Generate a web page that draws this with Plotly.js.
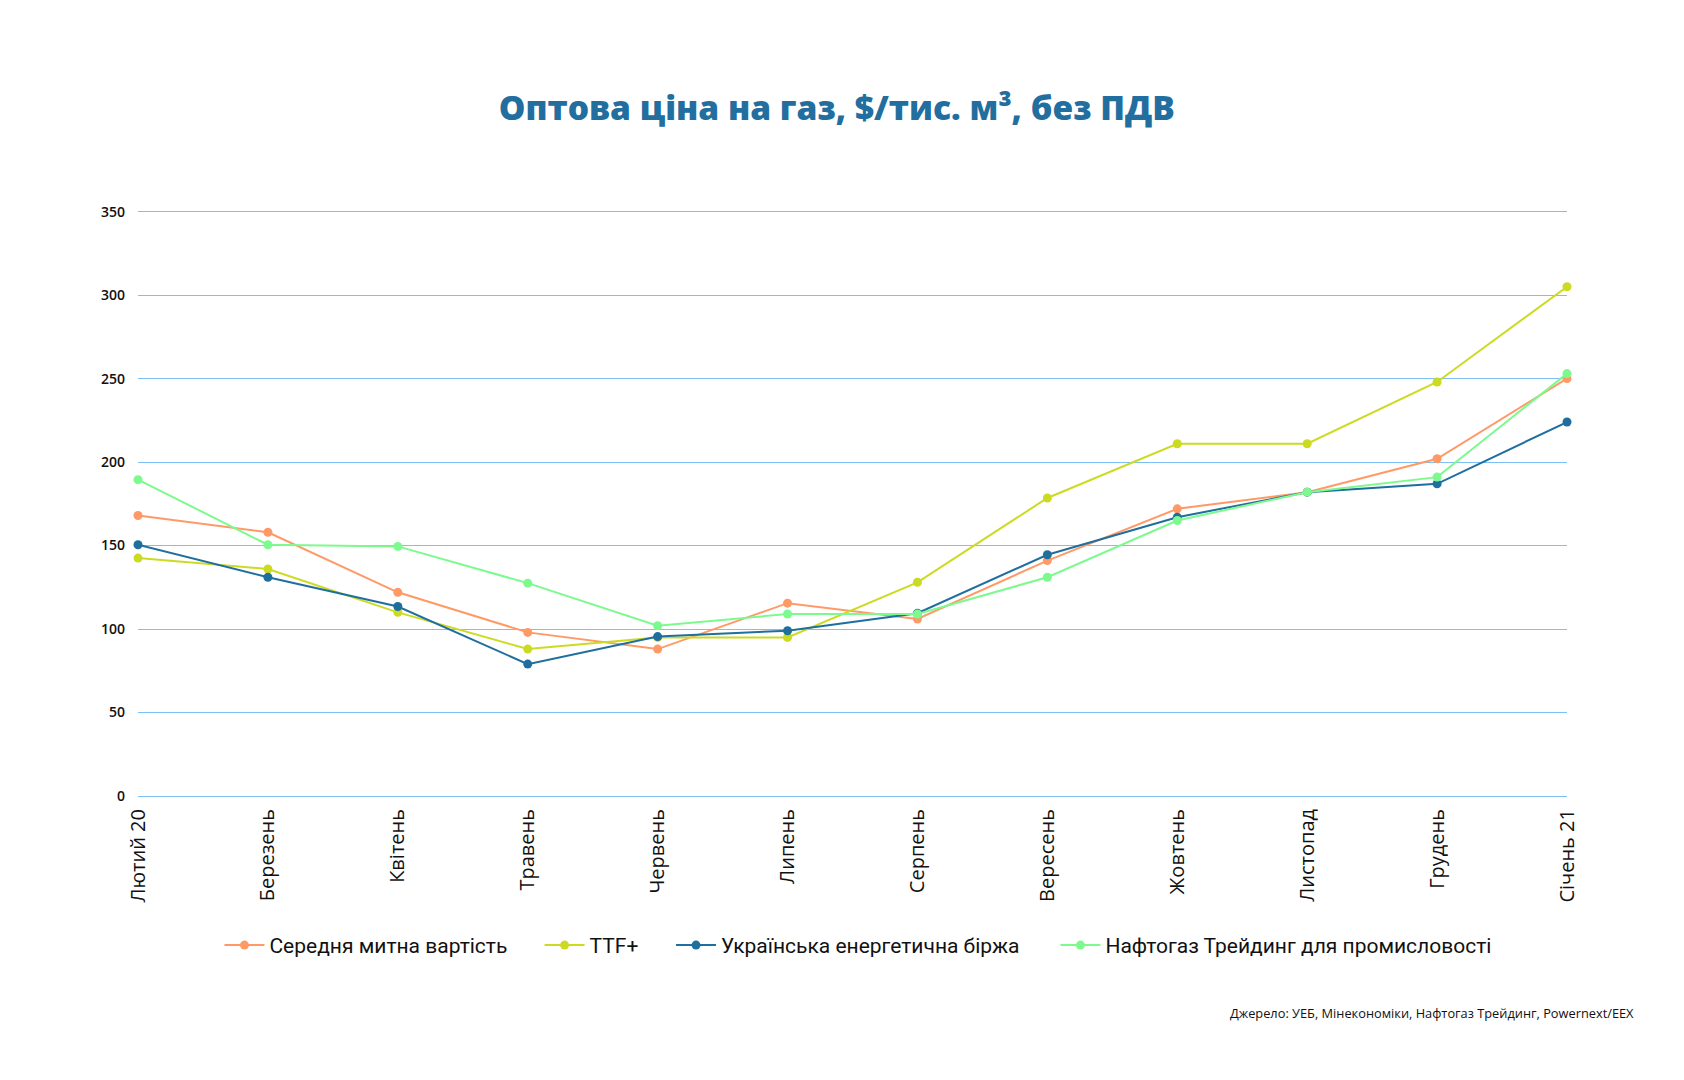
<!DOCTYPE html>
<html>
<head>
<meta charset="utf-8">
<script src="https://cdn.plot.ly/plotly-3.0.1.min.js"></script>
<style>
  html, body { margin: 0; padding: 0; background: #ffffff; }
  #chart { width: 1684px; height: 1080px; }
</style>
</head>
<body>
<div id="chart"></div>
<script>
// Months, Feb 2020 – Jan 2021
const months = ["Лютий 20", "Березень", "Квітень", "Травень", "Червень", "Липень",
                "Серпень", "Вересень", "Жовтень", "Листопад", "Грудень", "Січень 21"];

// Wholesale gas price, $ per thousand m³, excl. VAT
const customsValue = [168, 158, 122, 98, 88, 115.5, 106, 141, 172, 182, 202, 250];
const ttfPlus      = [142.5, 136, 110, 88, 95, 95, 128, 178.5, 211, 211, 248, 305];
const ueb          = [150.5, 131, 113.5, 79, 95.5, 99, 109.5, 144.5, 167, 182, 187, 224];
const naftogaz     = [189.5, 150.5, 149.5, 127.5, 102, 109, 109, 131, 165, 182, 191, 253];

const seriesNames = ["Середня митна вартість", "TTF+", "Українська енергетична біржа",
                     "Нафтогаз Трейдинг для промисловості"];
const seriesColors = ["#FF9966", "#CCDB22", "#1F6F9E", "#7DFA8E"];
const yTicks = [0, 50, 100, 150, 200, 250, 300, 350];

const idx = months.map((_, i) => i);

// each series gets its own legend box so the entries can be spaced freely
const legendIds = ["legend", "legend2", "legend3", "legend4"];
const legendX = [0.057, 0.281, 0.373, 0.642];

function line(k, values) {
  return {
    type: "scatter",
    mode: "lines+markers",
    name: seriesNames[k],
    legend: legendIds[k],
    x: idx,
    y: values,
    line: { color: seriesColors[k], width: 2 },
    marker: { color: seriesColors[k], size: 9 },
    cliponaxis: false,
    hoverinfo: "skip"
  };
}

const traces = [
  line(0, customsValue),
  line(1, ttfPlus),
  line(2, ueb),
  line(3, naftogaz)
];

const legendFont = { family: "Roboto", size: 21, color: "#111111" };

const layout = {
  width: 1684,
  height: 1080,
  paper_bgcolor: "#ffffff",
  plot_bgcolor: "#ffffff",
  margin: { l: 137.5, r: 117, t: 209.9, b: 284.2 },
  title: {
    text: "Оптова ціна на газ, $/тис. м³, без ПДВ",
    font: { family: "Open Sans", size: 33.5, color: "#226E9F", weight: 800 },
    x: 0.489, xanchor: "center",
    y: 0.9, yanchor: "middle",
    xref: "paper"
  },
  xaxis: {
    range: [0, 11],
    tickvals: idx,
    ticktext: months,
    tickangle: -90,
    showgrid: false,
    zeroline: false,
    showline: false,
    ticks: "",
    ticklabelstandoff: 8,
    tickfont: { family: "Open Sans", size: 20, color: "#111111" }
  },
  yaxis: {
    range: [0, 351],
    tickvals: yTicks,
    ticktext: yTicks.map(String),
    showgrid: true,
    gridcolor: "#7CC0F5",
    gridwidth: 1,
    zeroline: true,
    zerolinecolor: "#7CC0F5",
    zerolinewidth: 1,
    showline: false,
    ticks: "",
    ticklabelstandoff: 12,
    tickfont: { family: "Open Sans", size: 14, color: "#111111", weight: 600 }
  },
  showlegend: true,
  annotations: [{
    text: "Джерело: УЕБ, Мінекономіки, Нафтогаз Трейдинг, Powernext/EEX",
    xref: "paper", yref: "paper",
    x: 1.048, xanchor: "right",
    y: -0.37, yanchor: "middle",
    showarrow: false,
    font: { family: "Open Sans", size: 12.8, color: "#111111" }
  }]
};

legendIds.forEach((id, k) => {
  layout[id] = {
    orientation: "h",
    x: legendX[k], xanchor: "left",
    y: -0.255, yanchor: "middle",
    font: legendFont,
    itemwidth: 40,
    bgcolor: "rgba(0,0,0,0)"
  };
});

Plotly.newPlot("chart", traces, layout, { displayModeBar: false, staticPlot: true });
</script>
</body>
</html>
